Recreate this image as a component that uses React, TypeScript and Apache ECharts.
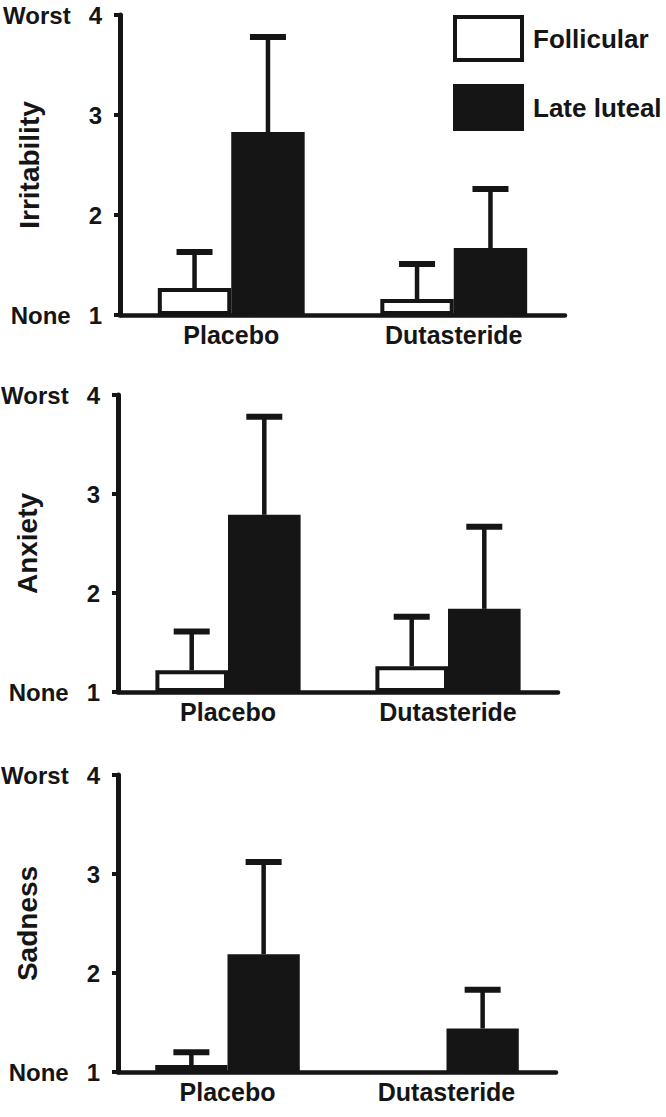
import React, { useEffect, useRef } from 'react';
import * as echarts from 'echarts';

const categories = ['Placebo', 'Dutasteride'];
const phases = ['Follicular', 'Late luteal'];
const panelNames = ['Irritability', 'Anxiety', 'Sadness'];

const irritabilityFollicular = [1.27, 1.16];
const irritabilityFollicularSem = [0.36, 0.35];
const irritabilityLuteal = [2.83, 1.67];
const irritabilityLutealSem = [0.95, 0.59];

const anxietyFollicular = [1.22, 1.26];
const anxietyFollicularSem = [0.39, 0.5];
const anxietyLuteal = [2.79, 1.84];
const anxietyLutealSem = [0.99, 0.83];

const sadnessFollicular = [1.07, null];
const sadnessFollicularSem = [0.13, null];
const sadnessLuteal = [2.19, 1.44];
const sadnessLutealSem = [0.93, 0.39];

const yMin = 1;
const yMax = 4;
const yInterval = 1;
const yEndLabels: Record<number, string> = { 1: 'None', 4: 'Worst' };

const INK = '#151515';
const FONT = '"Liberation Sans", Arial, Helvetica, sans-serif';

const panelData = [
  [irritabilityFollicular, irritabilityFollicularSem, irritabilityLuteal, irritabilityLutealSem],
  [anxietyFollicular, anxietyFollicularSem, anxietyLuteal, anxietyLutealSem],
  [sadnessFollicular, sadnessFollicularSem, sadnessLuteal, sadnessLutealSem],
];

const grids = [
  { left: 120, top: 15, width: 445, height: 300, outerBoundsMode: 'none', containLabel: false },
  { left: 118, top: 395, width: 440, height: 297, outerBoundsMode: 'none', containLabel: false },
  { left: 118, top: 775, width: 438, height: 297, outerBoundsMode: 'none', containLabel: false },
];

const BAR_FRAC = 0.33;

function errorRenderer(offsetSign: number) {
  return (params: any, api: any) => {
    const x = api.value(0);
    const mean = api.value(1);
    const top = api.value(2);
    const base = api.coord([x, mean]);
    const hi = api.coord([x, top]);
    const bw = api.size([1, 0])[0];
    const cx = base[0] + offsetSign * bw * BAR_FRAC * 0.5;
    const half = 18;
    return {
      type: 'group',
      children: [
        {
          type: 'line',
          shape: { x1: cx, y1: base[1], x2: cx, y2: hi[1] },
          style: { stroke: INK, lineWidth: 4.5 },
        },
        {
          type: 'line',
          shape: { x1: cx - half, y1: hi[1], x2: cx + half, y2: hi[1] },
          style: { stroke: INK, lineWidth: 6 },
        },
      ],
    };
  };
}

function errData(means: (number | null)[], sems: (number | null)[]) {
  const out: number[][] = [];
  means.forEach((m, i) => {
    const s = sems[i];
    if (m != null && s != null) out.push([i, m, m + s]);
  });
  return out;
}

export default function App() {
  const ref = useRef<HTMLDivElement>(null);

  useEffect(() => {
    if (!ref.current) return;
    const chart = echarts.init(ref.current, undefined, { renderer: 'svg' });

    const xAxis = grids.map((_, i) => ({
      type: 'category',
      gridIndex: i,
      data: categories,
      z: 5,
      axisLine: { show: true, lineStyle: { color: INK, width: 4.5 } },
      axisTick: { show: false },
      axisLabel: {
        margin: 7,
        fontSize: 25,
        fontWeight: 'bold',
        fontFamily: FONT,
        color: INK,
      },
      splitLine: { show: false },
    }));

    const yAxis = grids.map((_, i) => ({
      type: 'value',
      gridIndex: i,
      min: yMin,
      max: yMax,
      interval: yInterval,
      startValue: yMin,
      z: 5,
      name: panelNames[i],
      nameLocation: 'middle',
      nameGap: 77,
      nameRotate: 90,
      nameMoveOverlap: false,
      nameTextStyle: { fontSize: 28, fontWeight: 'bold', fontFamily: FONT, color: INK },
      axisLine: { show: true, lineStyle: { color: INK, width: 5 } },
      axisTick: { show: true, length: 6, lineStyle: { color: INK, width: 4 } },
      splitLine: { show: false },
      axisLabel: {
        margin: 18,
        formatter: (v: number) =>
          yEndLabels[v] ? `{a|${yEndLabels[v]}}{b|${v}}` : `{b|${v}}`,
        rich: {
          a: { fontSize: 24, fontWeight: 'bold', fontFamily: FONT, color: INK, padding: [0, 18, 0, 0] },
          b: { fontSize: 24, fontWeight: 'bold', fontFamily: FONT, color: INK },
        },
      },
    }));

    const series: any[] = [];
    panelData.forEach((pd, i) => {
      const [fol, folSem, lut, lutSem] = pd;
      series.push({
        type: 'bar',
        name: phases[0],
        xAxisIndex: i,
        yAxisIndex: i,
        data: fol.map((v) => (v == null ? '-' : v)),
        barWidth: `${BAR_FRAC * 100}%`,
        barGap: '0%',
        clip: true,
        z: 2,
        itemStyle: { color: '#ffffff', borderColor: INK, borderWidth: 4 },
      });
      series.push({
        type: 'bar',
        name: phases[1],
        xAxisIndex: i,
        yAxisIndex: i,
        data: lut.map((v) => (v == null ? '-' : v)),
        barWidth: `${BAR_FRAC * 100}%`,
        barGap: '0%',
        clip: true,
        z: 2,
        itemStyle: { color: INK, borderColor: INK, borderWidth: 4 },
      });
      series.push({
        type: 'custom',
        name: 'err-fol-' + i,
        xAxisIndex: i,
        yAxisIndex: i,
        z: 3,
        clip: false,
        renderItem: errorRenderer(-1),
        data: errData(fol, folSem),
      });
      series.push({
        type: 'custom',
        name: 'err-lut-' + i,
        xAxisIndex: i,
        yAxisIndex: i,
        z: 3,
        clip: false,
        renderItem: errorRenderer(1),
        data: errData(lut, lutSem),
      });
    });

    chart.setOption({
      animation: false,
      backgroundColor: '#ffffff',
      grid: grids,
      xAxis,
      yAxis,
      legend: {
        data: phases,
        orient: 'vertical',
        left: 453,
        top: 15,
        padding: 0,
        icon: 'rect',
        itemWidth: 67,
        itemHeight: 43,
        itemGap: 22,
        selectedMode: false,
        itemStyle: { borderColor: INK, borderWidth: 4 },
        textStyle: {
          fontSize: 26,
          fontWeight: 'bold',
          fontFamily: FONT,
          color: INK,
          padding: [0, 0, 0, 6],
        },
      },
      series,
    });

    return () => chart.dispose();
  }, []);

  return (
    <div
      ref={ref}
      style={{ position: 'absolute', left: 0, top: 0, width: 666, height: 1117, background: '#fff' }}
    />
  );
}
